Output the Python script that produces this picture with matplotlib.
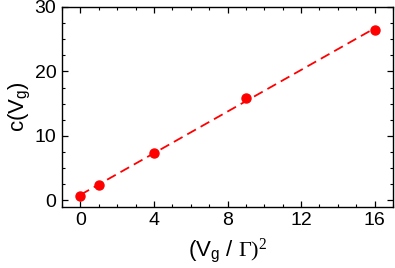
import numpy as np
import matplotlib
matplotlib.use('Agg')
import matplotlib.pyplot as plt
from matplotlib.ticker import MultipleLocator

# values
x_vals = [0, 1, 4, 9, 16]
c_vals = [0.67, 2.44, 7.36, 15.9, 26.4]

plt.rcParams['font.family'] = ['Liberation Sans', 'DejaVu Sans']
plt.rcParams['mathtext.fontset'] = 'custom'
plt.rcParams['mathtext.rm'] = 'Liberation Serif'
plt.rcParams['mathtext.sf'] = 'Liberation Sans'
plt.rcParams['mathtext.it'] = 'Liberation Serif:italic'

# linear fit through the points
slope, intercept = np.polyfit(x_vals, c_vals, 1)
x_fit = np.array([x_vals[0], x_vals[-1]])

fig = plt.figure(figsize=(3.95, 2.68), dpi=100)
ax = fig.add_axes([0.157, 0.228, 0.838, 0.746])

ax.plot(x_fit, slope * x_fit + intercept, color='#ff0000', linestyle='--',
        linewidth=1.3, dashes=(5.5, 3), zorder=2)
ax.plot(x_vals, c_vals, 'o', color='#ff0000', markersize=6.5, zorder=3)

ax.set_xlim(-1, 17)
ax.set_ylim(-1, 30)
ax.xaxis.set_major_locator(MultipleLocator(4))
ax.xaxis.set_minor_locator(MultipleLocator(1))
ax.yaxis.set_major_locator(MultipleLocator(10))
ax.yaxis.set_minor_locator(MultipleLocator(2.5))
ax.tick_params(which='both', direction='in', top=True, right=True, labelsize=14)
ax.tick_params(which='major', length=4.5, width=0.9, pad=4)
ax.tick_params(which='minor', length=2.5, width=0.8)
for s in ax.spines.values():
    s.set_linewidth(1.0)

ax.set_xlabel(r'(V$_{\mathsf{g}}$ / $\mathrm{\Gamma})^{\mathrm{2}}$', fontsize=16, labelpad=5)
ax.set_ylabel(r'c(V$_{\mathsf{g}}$)', fontsize=16, labelpad=2)

fig.savefig('out.png', dpi=100)
